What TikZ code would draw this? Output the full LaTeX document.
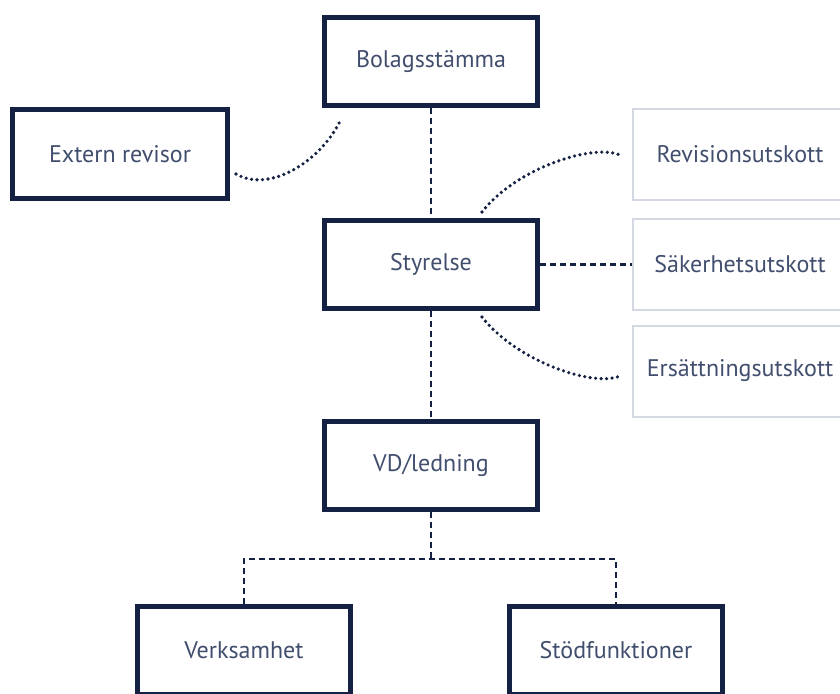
\documentclass[tikz,border=0pt]{standalone}
\usepackage{fontspec}
\setmainfont{PT Sans}
\definecolor{navy}{RGB}{20,33,66}
\definecolor{inkgrey}{RGB}{66,78,110}
\definecolor{paleline}{RGB}{212,216,226}

\begin{document}
\begin{tikzpicture}[
        x=1pt, y=-1pt,
        organ/.style={
            draw=navy,
            fill=white,
            line width=5pt,
            minimum width=213pt,
            minimum height=88pt,
            text=inkgrey,
            font=\fontsize{24}{28}\selectfont,
        },
        committee/.style={
            draw=paleline,
            line width=2pt,
            minimum width=214pt,
            minimum height=91pt,
            text=inkgrey,
            font=\fontsize{24}{28}\selectfont,
        },
        link/.style={
            navy,
            line width=2.2pt,
            dash pattern=on 6pt off 4pt,
        },
        loose/.style={
            navy,
            line width=3.6pt,
            line cap=round,
            dash pattern=on 0pt off 5.5pt,
        },
    ]
    \clip (0,0) rectangle (840,693);
    % board and owners
    \node[organ] (stamma) at (431,61.5) {Bolagsstämma};
    \node[organ,minimum width=215pt,minimum height=89pt] (revisor) at (120,154) {Extern revisor};
    \node[organ] (styrelse) at (431,264.5) {Styrelse};
    \node[organ] (vd) at (431,465.5) {VD/ledning};
    \node[organ] (verk) at (244,650.5) {Verksamhet};
    \node[organ] (stod) at (616,650.5) {Stödfunktioner};
    % committees, cut by the right edge
    \foreach \name/\y/\label in {rev/154.5/Revisionsutskott,sak/264.5/Säkerhetsutskott,ers/371/Ersättningsutskott}{
        \node[committee] (\name) at (740,\y) {\label};
    }
    \coordinate (split) at (431,559);

    \draw[link] (stamma) -- (styrelse);
    \draw[link] (styrelse) -- (vd);
    \draw[link] (styrelse) -- (sak);
    \draw[link] (vd) -- (split);
    \draw[link] (verk.north) |- (split) -| (stod.north);

    \draw[loose] ([xshift=6pt,yshift=-20pt]revisor.east)
        .. controls +(35,20) and +(-18,40) .. ([xshift=-90pt,yshift=-11pt]stamma.south);
    \draw[loose] ([xshift=51pt,yshift=6pt]styrelse.north)
        .. controls +(35,-45) and +(-25,-14) .. ([xshift=-10pt,yshift=-1.5pt]rev.west);
    \draw[loose] ([xshift=51pt,yshift=-6pt]styrelse.south)
        .. controls +(35,45) and +(-25,14) .. ([xshift=-10pt,yshift=-4pt]ers.west);
\end{tikzpicture}
\end{document}
